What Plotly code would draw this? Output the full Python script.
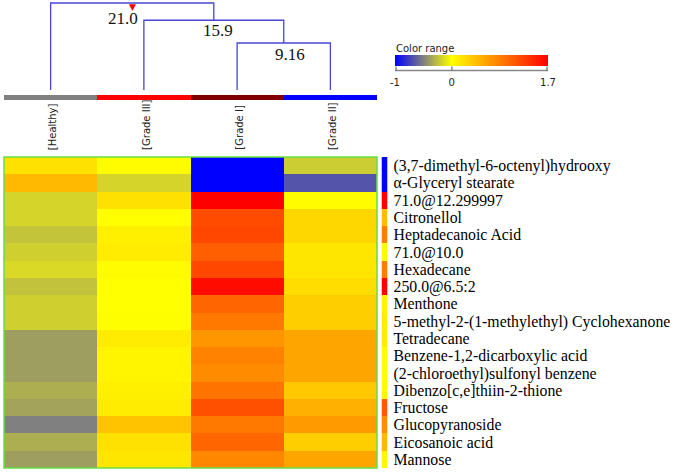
import plotly.graph_objects as go

# ---------------- data ----------------
groups = ["[Healthy]", "[Grade III]", "[Grade I]", "[Grade II]"]
group_colors = ["#808080", "#ff0000", "#800000", "#0000ff"]

compounds = [
    "(3,7-dimethyl-6-octenyl)hydrooxy",
    "α-Glyceryl stearate",
    "71.0@12.299997",
    "Citronellol",
    "Heptadecanoic Acid",
    "71.0@10.0",
    "Hexadecane",
    "250.0@6.5:2",
    "Menthone",
    "5-methyl-2-(1-methylethyl) Cyclohexanone",
    "Tetradecane",
    "Benzene-1,2-dicarboxylic acid",
    "(2-chloroethyl)sulfonyl benzene",
    "Dibenzo[c,e]thiin-2-thione",
    "Fructose",
    "Glucopyranoside",
    "Eicosanoic acid",
    "Mannose",
]

healthy = [0.20, 0.47, -0.17, -0.17, -0.23, -0.19, -0.15, -0.24, -0.19, -0.19,
           -0.38, -0.38, -0.38, -0.32, -0.36, -0.50, -0.32, -0.38]
grade3 = [0.02, -0.17, 0.20, 0.00, 0.10, 0.13, 0.03, 0.00, 0.00, 0.01,
          0.13, 0.07, 0.07, 0.10, 0.13, 0.40, 0.20, 0.17]
grade1 = [-1.00, -1.00, 1.70, 1.20, 1.23, 1.07, 1.23, 1.63, 1.03, 0.90,
          0.70, 0.83, 0.77, 0.93, 1.17, 0.90, 1.03, 0.80]
grade2 = [-0.20, -0.67, 0.02, 0.27, 0.27, 0.17, 0.17, 0.23, 0.33, 0.33,
          0.60, 0.60, 0.60, 0.37, 0.53, 0.67, 0.33, 0.60]
row_index = [-1.00, -1.00, 1.70, 0.43, 0.87, 0.00, 0.87, 1.70, 0.07, 0.10,
             0.13, 0.00, 0.00, 0.02, 1.10, 0.77, 0.47, 0.05]

# linkage: (child a, child b, height); ids >= 4 are earlier merges
linkage = [(2, 3, 9.16), (1, 4, 15.9), (0, 5, 21.0)]
color_ticks = [-1, 0, 1.7]
color_tick_text = ["-1", "0", "1.7"]

# ---------------- layout helpers ----------------
W, H = 675, 473
def px(p):
    return p / W
def py(p):
    return 1 - p / H

colorscale = [[0.0, "#0000ff"], [1 / 2.7, "#ffff00"], [1.0, "#ff0000"]]
zmin, zmax = -1, 1.7

# colour-range bar geometry (pixels)
cb_left, cb_len, cb_top, cb_thick = 395, 153, 55, 11
cb_line_y = 70.5

# dendrogram height scale (pixel rows of top region)
top_h, low_h = linkage[-1][2], linkage[0][2]
scale = (43 - 3) / (top_h - low_h)
y3_top = top_h + 3 / scale
y3_bottom = top_h - 97 / scale
leaf_h = top_h - 87 / scale
band_top = top_h - 92 / scale

fig = go.Figure()

z = [[healthy[i], grade3[i], grade1[i], grade2[i]] for i in range(len(compounds))]
fig.add_trace(go.Heatmap(
    z=z, x=list(range(len(groups))), y=compounds,
    colorscale=colorscale, zmin=zmin, zmax=zmax, xaxis="x", yaxis="y",
    hoverinfo="skip",
    colorbar=dict(
        orientation="h", lenmode="pixels", len=cb_len, thickness=cb_thick,
        x=px(cb_left), xanchor="left", y=py(cb_top), yanchor="top",
        xpad=0, ypad=0,
        tickvals=color_ticks, ticktext=color_tick_text,
        ticks="outside", ticklen=8, tickcolor="rgba(0,0,0,0)", tickwidth=1,
        tickfont=dict(family="DejaVu Sans", size=10, color="#222"),
        outlinewidth=0,
    ),
))
fig.add_trace(go.Heatmap(
    z=[[v] for v in row_index], x=[0], y=compounds,
    colorscale=colorscale, zmin=zmin, zmax=zmax, xaxis="x2", yaxis="y",
    showscale=False, hoverinfo="skip",
))

# dendrogram
pos = {i: float(i) for i in range(len(groups))}
hgt = {i: leaf_h for i in range(len(groups))}
xs, ys = [], []
nid = len(groups)
for a, b, h in linkage:
    xs += [pos[a], pos[a], pos[b], pos[b], None]
    ys += [hgt[a], h, h, hgt[b], None]
    pos[nid] = (pos[a] + pos[b]) / 2
    hgt[nid] = h
    nid += 1
fig.add_trace(go.Scatter(x=xs, y=ys, mode="lines", xaxis="x3", yaxis="y3",
                         line=dict(color="#4646d8", width=1.3),
                         hoverinfo="skip", showlegend=False))
# group colour band
fig.add_trace(go.Bar(x=list(range(len(groups))), y=[band_top - y3_bottom] * len(groups),
                     base=y3_bottom, width=1, marker=dict(color=group_colors, line=dict(width=0)),
                     xaxis="x3", yaxis="y3", hoverinfo="skip", showlegend=False))

annotations = []
label_shift = {21.0: (-9, -15), 15.9: (4, -10), 9.16: (6, -11)}
for a, b, h in linkage:
    mid = (pos[a] + pos[b]) / 2
    dx, dy = label_shift[h]
    annotations.append(dict(x=mid, y=h, xref="x3", yref="y3", text=str(h),
                            showarrow=False, xshift=dx, yshift=dy, yanchor="middle",
                            font=dict(family="Liberation Serif", size=17, color="#111")))
a, b, h = linkage[-1]
annotations.append(dict(x=(pos[a] + pos[b]) / 2, y=h, xref="x3", yref="y3", text="▼",
                        showarrow=False, yanchor="top", yshift=3,
                        font=dict(family="DejaVu Sans", size=9, color="#ff0000")))
for i, g in enumerate(groups):
    annotations.append(dict(x=i, y=py(152), xref="x3", yref="paper", text=g,
                            textangle=-90, showarrow=False, yanchor="bottom", xshift=2,
                            font=dict(family="DejaVu Sans", size=10, color="#222")))
annotations.append(dict(x=px(394), y=py(48), xref="paper", yref="paper", text="Color range",
                        showarrow=False, xanchor="left", yanchor="middle",
                        font=dict(family="DejaVu Sans", size=10, color="#222")))

# baseline and tick marks under the colour-range bar
shapes = [dict(type="rect", xref="x domain", yref="y domain", x0=0, x1=1, y0=0, y1=1,
               line=dict(color="#66e040", width=1.5)),
          dict(type="line", xref="paper", yref="paper",
               x0=px(cb_left), x1=px(cb_left + cb_len), y0=py(cb_line_y), y1=py(cb_line_y),
               line=dict(color="#888", width=1.5))]
for v in color_ticks:
    tx = cb_left + 1 + (v - zmin) / (zmax - zmin) * (cb_len - 2)
    shapes.append(dict(type="line", xref="paper", yref="paper",
                       x0=px(tx), x1=px(tx), y0=py(cb_line_y), y1=py(cb_line_y - 4),
                       line=dict(color="#555", width=1)))

fig.update_layout(
    width=W, height=H, margin=dict(l=0, r=0, t=0, b=0, autoexpand=False),
    paper_bgcolor="white", plot_bgcolor="white", showlegend=False,
    xaxis=dict(domain=[px(4), px(377)], range=[-0.5, 3.5], visible=False, anchor="y"),
    xaxis2=dict(domain=[px(381.5), px(387.5)], range=[-0.5, 0.5], visible=False, anchor="y"),
    xaxis3=dict(domain=[px(4), px(377)], range=[-0.5, 3.5], visible=False, anchor="y3"),
    yaxis=dict(domain=[py(468), py(157)], autorange="reversed", anchor="x2", side="right",
               tickmode="array", tickvals=compounds,
               showgrid=False, zeroline=False, showline=False, ticks="",
               ticklabelstandoff=5, automargin=False,
               tickfont=dict(family="Liberation Serif", size=15.8, color="#000")),
    yaxis3=dict(domain=[py(100), 1], range=[y3_bottom, y3_top], visible=False, anchor="x3"),
    annotations=annotations,
    shapes=shapes,
    bargap=0,
)

fig.write_html("out.html", config={"displayModeBar": False},
               post_script="document.body.style.margin='0';")
